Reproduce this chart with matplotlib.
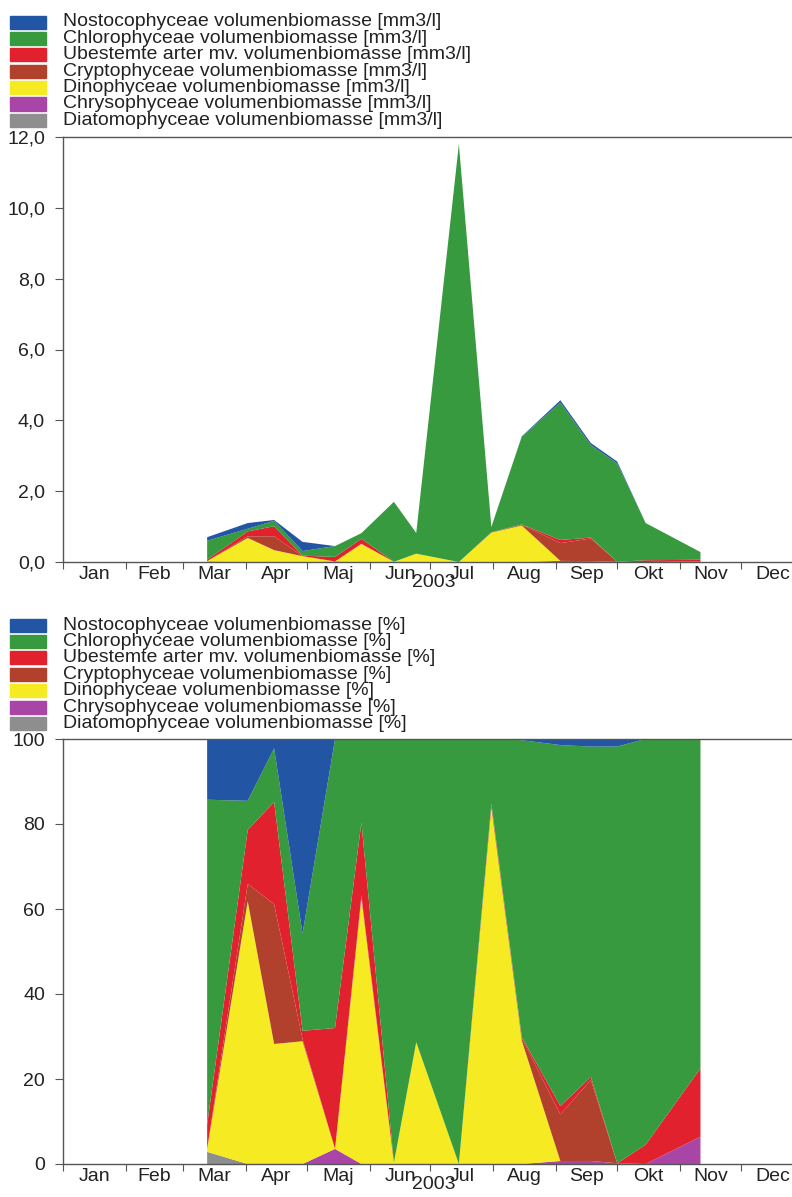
import matplotlib.pyplot as plt
from matplotlib.patches import Rectangle
from matplotlib.ticker import FuncFormatter
import numpy as np
from datetime import datetime

plt.rcParams['font.family'] = ['Liberation Sans', 'DejaVu Sans']

# sampling dates 2003
dates = [datetime(2003, 3, 13), datetime(2003, 4, 2), datetime(2003, 4, 15),
         datetime(2003, 4, 29), datetime(2003, 5, 15), datetime(2003, 5, 28),
         datetime(2003, 6, 13), datetime(2003, 6, 24), datetime(2003, 7, 15),
         datetime(2003, 7, 31), datetime(2003, 8, 15), datetime(2003, 9, 3),
         datetime(2003, 9, 18), datetime(2003, 10, 1), datetime(2003, 10, 15),
         datetime(2003, 11, 11)]

# volume biomass per group [mm3/l]
nosto  = [0.10, 0.16, 0.026, 0.26, 0, 0, 0, 0, 0, 0, 0.01, 0.065, 0.06, 0.05, 0, 0]
chloro = [0.535, 0.075, 0.15, 0.13, 0.306, 0.16, 1.695, 0.585, 11.8, 0.15, 2.48, 3.88, 2.61, 2.78, 1.05, 0.217]
ubest  = [0.04, 0.14, 0.285, 0.011, 0.128, 0.14, 0, 0, 0, 0.005, 0.01, 0.09, 0.025, 0, 0.05, 0.045]
crypto = [0, 0.045, 0.39, 0.003, 0, 0.005, 0, 0, 0, 0.005, 0.02, 0.5, 0.64, 0, 0, 0]
dino   = [0.005, 0.68, 0.335, 0.164, 0, 0.51, 0.005, 0.235, 0, 0.83, 1.03, 0, 0, 0, 0, 0]
chryso = [0, 0, 0, 0, 0.016, 0, 0, 0, 0, 0, 0, 0.032, 0.024, 0.005, 0, 0.018]
diatom = [0.02, 0, 0, 0, 0, 0, 0, 0, 0, 0, 0, 0, 0, 0, 0, 0]

groups = ["Nostocophyceae", "Chlorophyceae", "Ubestemte arter mv.", "Cryptophyceae",
          "Dinophyceae", "Chrysophyceae", "Diatomophyceae"]
series = [nosto, chloro, ubest, crypto, dino, chryso, diatom]
colors = ["#2255a4", "#379a3f", "#e2212e", "#b1412c", "#f6ea22", "#a845a6", "#8e8e8e"]

month_names = ["Jan", "Feb", "Mar", "Apr", "Maj", "Jun", "Jul", "Aug", "Sep", "Okt", "Nov", "Dec"]

W, H = 792, 1197
fig = plt.figure(figsize=(W / 100, H / 100), dpi=100)


def px_axes(left, top, right, bottom):
    return fig.add_axes([left / W, 1 - bottom / H, (right - left) / W, (bottom - top) / H])


def draw_legend(top_y, unit):
    for i, (name, c) in enumerate(zip(groups, colors)):
        y = top_y + i * 16.4
        fig.patches.append(Rectangle((10 / W, 1 - (y + 6.5) / H), 36 / W, 13 / H,
                                     transform=fig.transFigure, color=c))
        fig.text(63 / W, 1 - y / H, f"{name} volumenbiomasse [{unit}]",
                 va="center", fontsize=14, color="#222222")


def style_axis(ax, ymax, ystep, fmt):
    starts = [datetime(2003, m, 1) for m in range(1, 13)] + [datetime(2004, 1, 1)]
    mids = [a + (b - a) / 2 for a, b in zip(starts[:-1], starts[1:])]
    ax.set_xlim(starts[0], starts[-1])
    ax.set_xticks(starts)
    ax.set_xticklabels([])
    ax.set_xticks(mids, minor=True)
    ax.set_xticklabels(month_names, minor=True)
    ax.tick_params(axis="x", which="major", length=5, direction="out", color="#555555")
    ax.tick_params(axis="x", which="minor", length=0, pad=3, labelsize=14, labelcolor="#222222")
    ax.set_ylim(0, ymax)
    ax.set_yticks(np.arange(0, ymax + ystep / 2, ystep))
    ax.yaxis.set_major_formatter(FuncFormatter(fmt))
    ax.tick_params(axis="y", length=6, direction="out", pad=7, labelsize=14,
                   labelcolor="#222222", color="#555555")
    for s in ax.spines.values():
        s.set_color("#555555")
        s.set_linewidth(1.0)
    ax.set_xlabel("2003", fontsize=14, color="#222222")
    ax.xaxis.set_label_coords(0.5, -0.028)


# absolute biomass
ax1 = px_axes(63, 137, 804, 562)
ax1.stackplot(dates, *series[::-1], colors=colors[::-1], linewidth=0)
style_axis(ax1, 12, 2, lambda v, p: f"{v:.1f}".replace(".", ","))
draw_legend(22, "mm3/l")

# relative composition
values = np.array(series, dtype=float)
pct = values / values.sum(axis=0) * 100
ax2 = px_axes(63, 739, 804, 1164)
ax2.stackplot(dates, *pct[::-1], colors=colors[::-1], linewidth=0)
style_axis(ax2, 100, 20, lambda v, p: f"{v:.0f}")
draw_legend(625, "%")

fig.savefig("out.png", dpi=100)
